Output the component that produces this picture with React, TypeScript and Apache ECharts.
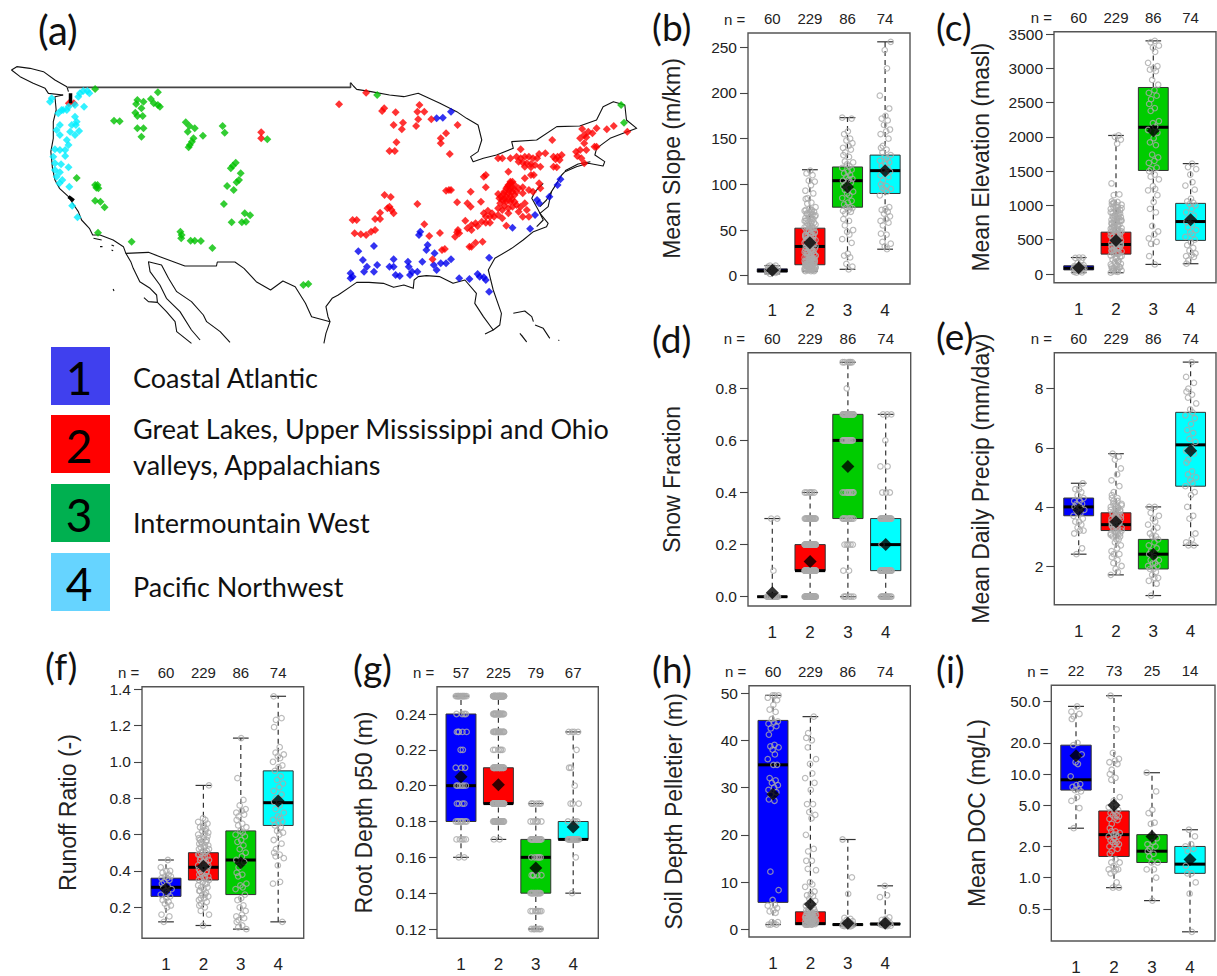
import React, { useEffect, useRef } from "react";
import * as echarts from "echarts";

const GROUPS = [1, 2, 3, 4];
const BOX_COLORS = ["#0000FF", "#FF0000", "#00CC00", "#00FFFF"];
const JITTER = [-0.06, 0.09, -0.12, 0.03, 0.13, -0.03, 0.07, -0.09, 0.01, 0.11, -0.14, 0.05, -0.01, 0.15, -0.07, 0.04, -0.11];

const levels = (pairs: number[][]) => pairs.flatMap(([v, c]) => new Array(c).fill(v));

// [min, q1, median, q3, max]
const slopeBoxes = [[2, 4, 5.5, 7.5, 11], [5, 12, 32, 52, 116], [7, 75, 104, 119, 173], [29, 90, 115, 132, 256]];
const slopeMeans = [6, 36, 97, 115];
const slopePoints = [
  [2, 3, 4, 4, 5, 5, 5, 6, 6, 6, 6, 7, 7, 8, 8, 9, 10, 11, 11],
  [5, 5, 6, 6, 6, 7, 7, 8, 8, 8, 9, 9, 10, 10, 11, 12, 12, 13, 14, 15, 15, 16, 17, 18, 19, 20, 20, 21, 22, 23, 24, 25, 26, 27, 28, 29, 30, 31, 32, 33, 34, 35, 36, 37, 38, 39, 40, 41, 42, 43, 44, 45, 46, 47, 48, 49, 50, 51, 52, 53, 54, 55, 56, 57, 58, 60, 61, 62, 63, 64, 65, 66, 67, 68, 69, 70, 71, 72, 73, 75, 79, 80, 84, 85, 90, 93, 99, 103, 104, 110, 112, 115,
    5, 6, 7, 8, 9, 10, 11, 12, 13, 14, 15, 16, 17, 18, 19, 20, 22, 24, 26, 28, 30, 32, 34, 36, 38, 40, 42, 44, 46, 48, 50, 52, 54, 56, 58, 60, 62, 64, 66, 68, 70, 72, 6, 7, 8, 9, 10, 11, 12, 13, 14, 15, 16, 18, 20, 22, 25, 28, 31, 35, 39, 43],
  [7, 10, 13, 20, 22, 24, 36, 40, 45, 48, 50, 55, 60, 62, 68, 70, 71, 72, 74, 75, 75, 78, 80, 82, 85, 88, 90, 92, 94, 96, 98, 100, 102, 104, 105, 106, 108, 110, 112, 114, 116, 118, 120, 122, 124, 125, 130, 132, 135, 138, 140, 142, 145, 148, 150, 155, 158, 172, 173],
  [29, 32, 35, 37, 45, 46, 55, 58, 60, 62, 65, 68, 70, 72, 73, 75, 88, 92, 94, 95, 96, 98, 100, 104, 108, 110, 112, 114, 116, 118, 120, 122, 124, 126, 128, 130, 132, 135, 138, 140, 142, 150, 155, 158, 160, 165, 170, 172, 175, 183, 197, 227, 247, 256],
];
const slopeTicks = [0, 50, 100, 150, 200, 250];

const elevBoxes = [[20, 60, 85, 120, 240], [20, 290, 430, 610, 2020], [140, 1510, 2140, 2720, 3400], [150, 490, 765, 1030, 1610]];
const elevMeans = [90, 490, 2090, 790];
const elevPoints = [
  [20, 25, 30, 40, 50, 55, 60, 60, 65, 70, 75, 80, 85, 85, 90, 95, 100, 105, 110, 115, 120, 130, 160, 200, 235, 240, 240],
  [20, 30, 40, 50, 60, 70, 80, 90, 100, 110, 130, 150, 170, 190, 210, 230, 250, 270, 290, 310, 330, 350, 370, 390, 410, 430, 450, 470, 490, 510, 530, 550, 570, 590, 610, 630, 650, 670, 690, 710, 730, 750, 770, 790, 810, 830, 850, 870, 890, 910, 930, 950, 970, 990, 1010, 1030, 1050, 1060, 1150, 1160, 1320, 1900, 1960, 2000, 2020,
    40, 70, 100, 140, 180, 220, 260, 300, 320, 340, 360, 380, 400, 420, 440, 460, 480, 500, 520, 540, 560, 580, 600, 620, 640, 660, 680, 700, 720, 740, 760, 780, 800, 820, 840, 860, 880, 900, 920, 940, 960, 980, 1000, 1020, 1040, 300, 340, 380, 420, 460, 500, 540, 580, 620, 660, 700, 740, 780, 820],
  [140, 260, 440, 470, 520, 580, 620, 700, 900, 950, 1050, 1150, 1220, 1240, 1280, 1380, 1420, 1450, 1500, 1530, 1550, 1620, 1650, 1700, 1740, 1880, 1920, 1980, 2060, 2100, 2150, 2200, 2230, 2380, 2420, 2480, 2550, 2600, 2640, 2680, 2760, 2830, 2960, 2980, 3000, 3030, 3080, 3240, 3300, 3330, 3380, 3400],
  [150, 200, 250, 260, 280, 300, 340, 380, 420, 460, 500, 540, 580, 610, 640, 680, 720, 760, 800, 850, 900, 950, 1000, 1020, 1040, 1060, 1100, 1230, 1290, 1340, 1450, 1530, 1560, 1610],
];
const elevTicks = [0, 500, 1000, 1500, 2000, 2500, 3000, 3500];

const snowBoxes = [[0, 0, 0, 0, 0.3], [0, 0.1, 0.1, 0.2, 0.4], [0, 0.3, 0.6, 0.7, 0.9], [0, 0.1, 0.2, 0.3, 0.7]];
const snowMeans = [0.015, 0.135, 0.5, 0.2];
const snowPoints = [
  levels([[0, 20], [0.1, 1], [0.3, 2]]),
  levels([[0, 34], [0.1, 50], [0.2, 50], [0.3, 20], [0.4, 6]]),
  levels([[0, 6], [0.1, 2], [0.2, 5], [0.3, 12], [0.4, 10], [0.6, 16], [0.7, 26], [0.8, 1], [0.9, 6]]),
  levels([[0, 14], [0.1, 24], [0.2, 1], [0.3, 24], [0.4, 3], [0.5, 2], [0.6, 1], [0.7, 3]]),
];
const snowTicks = [0, 0.2, 0.4, 0.6, 0.8];

const precipBoxes = [[2.4, 3.7, 4, 4.3, 4.8], [1.7, 3.2, 3.4, 3.8, 5.8], [1, 1.9, 2.4, 2.9, 4], [2.7, 4.7, 6.1, 7.2, 8.9]];
const precipMeans = [3.9, 3.5, 2.4, 5.9];
const precipPoints = [
  [2.4, 2.6, 3.1, 3.2, 3.2, 3.3, 3.4, 3.5, 3.5, 3.6, 3.7, 3.8, 3.8, 3.9, 3.9, 4, 4, 4.1, 4.1, 4.2, 4.2, 4.3, 4.4, 4.5, 4.6, 4.6, 4.8],
  [1.7, 1.8, 1.9, 2, 2.1, 2.2, 2.3, 2.4, 2.4, 2.5, 2.6, 2.7, 2.8, 2.9, 3, 3, 3.1, 3.1, 3.2, 3.2, 3.3, 3.3, 3.4, 3.4, 3.5, 3.5, 3.6, 3.6, 3.7, 3.7, 3.8, 3.8, 3.9, 3.9, 4, 4, 4.1, 4.1, 4.2, 4.3, 4.4, 4.5, 4.7, 4.9, 5.1, 5.3, 5.6, 5.7, 5.8,
    2.9, 3, 3.05, 3.1, 3.15, 3.2, 3.25, 3.3, 3.35, 3.4, 3.45, 3.5, 3.55, 3.6, 3.65, 3.7, 3.75, 3.8, 3.85, 3.9, 3.95, 4, 4.05, 4.1, 4.2, 4.3],
  [1, 1.4, 1.5, 1.6, 1.6, 1.7, 1.8, 1.9, 1.9, 2, 2, 2.1, 2.1, 2.2, 2.2, 2.3, 2.4, 2.5, 2.6, 2.7, 2.8, 2.9, 3, 3, 3.1, 3.2, 3.3, 3.4, 3.5, 3.6, 3.7, 3.8, 4, 4],
  [2.7, 2.7, 2.8, 2.9, 3.1, 3.6, 3.7, 4, 4.4, 4.5, 4.7, 4.8, 4.9, 5, 5.1, 5.2, 5.5, 5.6, 5.8, 5.9, 6, 6.2, 6.3, 6.5, 6.6, 6.8, 7, 7.1, 7.2, 7.3, 7.5, 7.7, 7.8, 7.9, 8, 8.2, 8.4, 8.9],
];
const precipTicks = [2, 4, 6, 8];

const runoffBoxes = [[0.12, 0.26, 0.31, 0.36, 0.46], [0.1, 0.35, 0.42, 0.5, 0.87], [0.08, 0.27, 0.46, 0.62, 1.13], [0.12, 0.65, 0.775, 0.95, 1.36]];
const runoffMeans = [0.3, 0.425, 0.445, 0.785];
const runoffPoints = [
  [0.12, 0.15, 0.16, 0.2, 0.21, 0.22, 0.23, 0.24, 0.25, 0.26, 0.27, 0.28, 0.29, 0.3, 0.31, 0.32, 0.33, 0.34, 0.35, 0.36, 0.36, 0.37, 0.37, 0.38, 0.39, 0.4, 0.4, 0.42, 0.46],
  [0.1, 0.16, 0.18, 0.2, 0.21, 0.22, 0.23, 0.24, 0.25, 0.26, 0.27, 0.28, 0.29, 0.3, 0.31, 0.32, 0.33, 0.34, 0.35, 0.36, 0.37, 0.38, 0.39, 0.4, 0.41, 0.42, 0.43, 0.44, 0.45, 0.46, 0.47, 0.48, 0.49, 0.5, 0.51, 0.52, 0.53, 0.54, 0.55, 0.56, 0.57, 0.58, 0.6, 0.61, 0.62, 0.63, 0.64, 0.65, 0.66, 0.67, 0.68, 0.69, 0.87,
    0.25, 0.27, 0.29, 0.31, 0.33, 0.35, 0.36, 0.37, 0.38, 0.39, 0.4, 0.41, 0.42, 0.43, 0.44, 0.45, 0.46, 0.47, 0.48, 0.49, 0.5, 0.51, 0.52, 0.53, 0.54, 0.55, 0.56, 0.57, 0.58, 0.59, 0.6, 0.62, 0.64],
  [0.08, 0.09, 0.1, 0.12, 0.13, 0.14, 0.15, 0.16, 0.18, 0.2, 0.21, 0.24, 0.25, 0.27, 0.3, 0.31, 0.32, 0.33, 0.37, 0.38, 0.39, 0.42, 0.45, 0.46, 0.48, 0.5, 0.52, 0.54, 0.56, 0.57, 0.59, 0.6, 0.61, 0.62, 0.64, 0.65, 0.66, 0.68, 0.7, 0.71, 0.72, 0.73, 0.74, 0.76, 0.79, 0.91, 1.13],
  [0.12, 0.33, 0.34, 0.43, 0.47, 0.48, 0.49, 0.5, 0.52, 0.55, 0.57, 0.6, 0.61, 0.62, 0.64, 0.65, 0.66, 0.67, 0.68, 0.69, 0.7, 0.72, 0.74, 0.76, 0.78, 0.8, 0.82, 0.84, 0.86, 0.88, 0.9, 0.92, 0.95, 0.97, 0.98, 1, 1.02, 1.03, 1.04, 1.05, 1.08, 1.19, 1.23, 1.24, 1.36],
];
const runoffTicks = [0.2, 0.4, 0.6, 0.8, 1.0, 1.2, 1.4];

const rootBoxes = [[0.16, 0.18, 0.2, 0.24, 0.25], [0.17, 0.19, 0.19, 0.21, 0.25], [0.12, 0.14, 0.16, 0.17, 0.19], [0.14, 0.17, 0.17, 0.18, 0.23]];
const rootMeans = [0.205, 0.2005, 0.154, 0.177];
const rootPoints = [
  levels([[0.16, 2], [0.17, 5], [0.18, 8], [0.19, 4], [0.2, 6], [0.21, 3], [0.22, 2], [0.23, 5], [0.24, 4], [0.25, 14]]),
  levels([[0.17, 2], [0.18, 22], [0.19, 40], [0.21, 25], [0.22, 6], [0.23, 20], [0.24, 20], [0.25, 50]]),
  levels([[0.12, 6], [0.13, 8], [0.14, 16], [0.15, 5], [0.16, 6], [0.17, 20], [0.18, 6], [0.19, 6]]),
  levels([[0.14, 1], [0.16, 1], [0.17, 18], [0.18, 4], [0.19, 3], [0.2, 1], [0.21, 2], [0.22, 1], [0.23, 4]]),
];
const rootTicks = [0.12, 0.14, 0.16, 0.18, 0.2, 0.22, 0.24];

const soilBoxes = [[1, 5.7, 34.8, 44.2, 49.5], [1, 1, 1.2, 3.7, 45], [0.7, 0.8, 1, 1.2, 19], [0.8, 1, 1.1, 1.3, 9.2]];
const soilMeans = [28.6, 5.3, 1.3, 1.3];
const soilPoints = [
  [1, 1, 1, 1.2, 1.5, 1.5, 3.5, 3.8, 4, 4.5, 5, 5.2, 6.2, 8.3, 12.2, 27.2, 27.5, 28.5, 29, 29.5, 30, 30.5, 31, 31.5, 32, 34.8, 34.8, 36, 37, 38, 38.5, 38.7, 39, 41.2, 42.5, 43, 43.5, 43.8, 44, 44.5, 46, 46.5, 47.5, 48.5, 49, 49.5, 49.5, 49.5],
  [1, 1, 1, 1, 1.2, 1.2, 1.5, 1.5, 1.5, 1.8, 2, 2, 2.2, 2.5, 2.5, 3, 3, 3.5, 3.5, 4, 4, 4.5, 5, 5.5, 6, 6.5, 7, 7.2, 7.5, 8, 9, 9.5, 10, 12.5, 12.8, 14.5, 14.5, 16.5, 17, 20, 23.5, 24.2, 24.8, 26.5, 26.5, 29.5, 31, 32, 33, 35, 36, 38.5, 40, 40.5, 41.5, 45,
    1, 1, 1.1, 1.1, 1.2, 1.3, 1.4, 1.5, 1.6, 1.7, 1.8, 1.9, 2, 2.1, 2.2, 2.3, 2.4, 2.6, 2.8, 3, 3.2, 3.4, 3.6, 3.8, 4, 1, 1.2, 1.4, 1.6, 1.8, 2, 2.2, 2.4, 2.7, 3, 3.3, 3.6, 4.1],
  [0.6, 0.7, 0.7, 0.8, 0.8, 0.9, 0.9, 1, 1, 1, 1.1, 1.1, 1.2, 1.3, 1.5, 1.7, 2, 2.2, 2.4, 7.5, 11, 19],
  [0.7, 0.8, 0.8, 0.9, 0.9, 1, 1, 1, 1.1, 1.2, 1.3, 1.5, 1.8, 2, 2.2, 2.5, 6.8, 7.2, 9.2],
];
const soilTicks = [0, 10, 20, 30, 40, 50];

const docBoxes = [[3, 7, 8.8, 19, 45], [0.8, 1.6, 2.6, 4.4, 57], [0.6, 1.4, 1.8, 2.6, 10.3], [0.3, 1.1, 1.35, 2, 2.9]];
const docMeans = [15, 5, 2.5, 1.5];
const docPoints = [
  [3, 4.7, 5.5, 6, 6.8, 7, 7.2, 7.5, 7.8, 8, 9.5, 12.5, 13, 15.5, 19, 20, 34, 36, 38, 40, 45],
  [0.8, 0.8, 0.9, 1.1, 1.15, 1.2, 1.2, 1.2, 1.3, 1.4, 1.4, 1.5, 1.7, 1.8, 1.9, 2, 2.1, 2.1, 2.2, 2.2, 2.3, 2.4, 2.5, 2.5, 2.6, 2.6, 2.7, 2.8, 2.8, 3, 3.3, 3.6, 3.7, 3.8, 3.9, 4, 4, 4.2, 4.4, 4.5, 4.8, 5, 5.5, 6, 8.8, 9.2, 10, 11, 12.5, 13, 13.5, 14, 16, 27, 57],
  [0.6, 1, 1.2, 1.2, 1.4, 1.4, 1.6, 1.7, 1.8, 1.9, 2, 2.1, 2.2, 2.4, 3.3, 3.4, 4.2, 4.5, 6.8, 10.3],
  [0.3, 0.7, 0.9, 1.1, 1.1, 1.3, 1.8, 1.9, 2, 2.1, 2.5, 2.9],
];
const docTicks = [0.5, 1, 2, 5, 10, 20, 50];

const NS_DEFAULT = ["60", "229", "86", "74"];
const NS_ROOT = ["57", "225", "79", "67"];
const NS_DOC = ["22", "73", "25", "14"];

// Map: coordinates in a 1561x900 map frame
const borderLine = [[165, 112], [855, 112], [855, 98]];
const coastLines = [
  [[855, 98], [862, 108], [870, 118], [905, 125], [950, 135], [985, 140], [1020, 130], [1073, 160], [1114, 185], [1138, 205], [1166, 225], [1175, 270], [1166, 305], [1148, 320], [1154, 335], [1179, 325], [1211, 315], [1252, 295], [1248, 275], [1309, 270], [1358, 230], [1414, 228], [1455, 210], [1471, 170], [1496, 155], [1524, 165], [1528, 210], [1553, 235], [1520, 250], [1488, 265], [1455, 295], [1451, 315], [1475, 335], [1471, 348], [1435, 340], [1406, 350], [1378, 365], [1370, 375], [1358, 400], [1345, 425], [1337, 470], [1317, 490], [1337, 520], [1333, 530], [1301, 545], [1276, 570], [1248, 595], [1207, 625], [1191, 660], [1203, 720], [1223, 790], [1219, 825], [1203, 840], [1179, 800], [1158, 760], [1162, 730], [1134, 690], [1105, 700], [1073, 680], [1040, 677], [1020, 680], [1010, 690], [1008, 715], [985, 705], [960, 712], [935, 700], [900, 697], [870, 697], [855, 710], [825, 735], [810, 745], [795, 770], [800, 800], [805, 815], [795, 850], [790, 880]],
  [[805, 815], [760, 800], [745, 760], [720, 710], [690, 693], [660, 720], [625, 695], [595, 655], [573, 636], [530, 636], [528, 648], [451, 648], [390, 620], [362, 607], [307, 610], [301, 590], [276, 570], [244, 555], [226, 555], [218, 535], [199, 510], [191, 485], [180, 465], [167, 440], [145, 415], [134, 390], [128, 355], [124, 305], [130, 265], [130, 215], [137, 180], [134, 140], [154, 135]],
  [[307, 610], [319, 635], [325, 655], [341, 695], [366, 715], [382, 735], [384, 757], [362, 755], [351, 743]],
  [[384, 757], [406, 785], [427, 815], [431, 845], [467, 880]],
  [[362, 635], [366, 665], [390, 705], [406, 745], [439, 785], [467, 840], [488, 870]],
  [[362, 635], [394, 645], [411, 685], [431, 725], [467, 755], [496, 795], [504, 815], [537, 845], [561, 877]],
  [[28, 60], [41, 50], [73, 55], [106, 65], [134, 90], [163, 110], [167, 125]],
  [[28, 60], [49, 80], [81, 100], [110, 115], [118, 130], [154, 135]],
  [[228, 565], [248, 570]], [[244, 590], [250, 590]], [[272, 585], [278, 588]], [[272, 600], [276, 602]], [[276, 717], [278, 723]],
  [[1252, 790], [1280, 783], [1297, 800], [1301, 815]], [[1305, 825], [1325, 835], [1341, 865]], [[1268, 850], [1284, 875], [1272, 855]], [[1362, 870], [1364, 872]],
  [[1325, 400], [1305, 425], [1297, 445], [1313, 480], [1325, 510], [1309, 530]],
  [[1345, 425], [1333, 450], [1317, 470]],
  [[1378, 362], [1410, 342], [1440, 335]],
  [[1203, 840], [1183, 852]],
];
const thickLines = [[[172, 130], [172, 160]], [[167, 440], [180, 452]]];
const stations1 = [[1100, 185], [1065, 205], [1080, 203], [1025, 545], [1022, 555], [1043, 585], [1040, 600], [912, 588], [874, 604], [885, 630], [895, 650], [888, 665], [920, 645], [912, 665], [950, 650], [960, 628], [960, 650], [995, 635], [997, 650], [1005, 665], [1000, 675], [1018, 665], [965, 675], [975, 678], [855, 670], [860, 680], [855, 685], [1030, 635], [1060, 610], [1058, 645], [1065, 660], [1075, 640], [1088, 640], [1100, 628], [1120, 685], [1145, 687], [1165, 672], [1170, 680], [1180, 682], [1185, 690], [1193, 623], [1193, 725], [1250, 533], [1293, 536], [1305, 495], [1310, 450], [1315, 460], [1340, 440], [1360, 405], [1367, 388]];
const stations2 = [[168, 160], [180, 160], [893, 128], [827, 163], [637, 247], [637, 265], [1023, 165], [965, 187], [937, 175], [932, 183], [1018, 185], [1035, 185], [1020, 208], [1052, 208], [983, 218], [960, 225], [1015, 228], [980, 238], [1116, 225], [1088, 250], [1075, 265], [1075, 280], [967, 277], [950, 303], [963, 303], [1097, 312], [938, 435], [953, 441], [1018, 462], [950, 470], [955, 480], [945, 475], [960, 490], [927, 488], [915, 507], [927, 507], [860, 510], [870, 510], [865, 550], [880, 553], [893, 555], [905, 545], [915, 540], [1035, 523], [1047, 558], [1073, 549], [1078, 600], [1085, 597], [1055, 628], [1117, 540], [1110, 560], [1095, 420], [1088, 422], [1100, 420], [1148, 425], [1115, 457], [1140, 460], [1148, 470], [1173, 455], [1180, 380], [1185, 375], [1185, 412],
  [1215, 432], [1222, 440], [1230, 425], [1235, 415], [1240, 405], [1245, 395], [1250, 395], [1255, 405], [1245, 415], [1250, 425], [1240, 430], [1235, 440], [1245, 440], [1255, 435], [1260, 425], [1265, 415], [1225, 450], [1235, 455], [1245, 455], [1220, 460], [1230, 468], [1240, 475], [1250, 470], [1260, 465], [1255, 455], [1270, 470], [1280, 460], [1285, 480], [1265, 485], [1275, 500], [1290, 500], [1240, 490], [1225, 480], [1215, 475], [1280, 385], [1295, 375], [1302, 375], [1240, 365], [1275, 412], [1315, 400], [1318, 415], [1290, 420], [1300, 425], [1275, 430], [1245, 400], [1238, 410], [1228, 432], [1242, 422], [1252, 415], [1232, 448], [1218, 445], [1248, 448],
  [1180, 490], [1190, 482], [1200, 490], [1185, 500], [1195, 500], [1205, 500], [1215, 495], [1225, 505], [1175, 515], [1185, 518], [1195, 518], [1160, 520], [1150, 525], [1165, 528], [1150, 540], [1140, 535], [1135, 512], [1145, 590], [1150, 590], [1160, 578], [1177, 575], [1235, 527], [1115, 547], [1120, 550],
  [1215, 325], [1225, 325], [1245, 325], [1270, 298], [1260, 320], [1270, 325], [1280, 320], [1290, 320], [1300, 325], [1310, 325], [1265, 335], [1275, 338], [1285, 340], [1295, 342], [1305, 345], [1318, 350], [1280, 350], [1295, 352], [1315, 312], [1330, 310], [1350, 320], [1360, 320], [1370, 315], [1355, 328], [1365, 330], [1350, 350], [1358, 352], [1347, 270],
  [1405, 305], [1415, 300], [1430, 300], [1408, 318], [1418, 325], [1425, 340], [1420, 237], [1435, 245], [1425, 255], [1415, 265], [1430, 262], [1445, 250], [1455, 235], [1480, 238], [1497, 228], [1450, 290], [1425, 280], [1455, 290], [1530, 245]];
const stations3 = [[232, 117], [385, 127], [335, 150], [350, 155], [332, 162], [368, 147], [375, 160], [385, 165], [390, 170], [345, 175], [330, 188], [335, 198], [348, 198], [278, 212], [292, 214], [335, 235], [350, 235], [345, 260], [453, 217], [462, 228], [475, 235], [458, 245], [543, 228], [548, 248], [495, 257], [472, 265], [468, 275], [463, 285], [460, 292], [652, 268], [575, 338], [568, 347], [563, 355], [587, 370], [583, 390], [577, 397], [570, 420], [554, 408], [187, 384], [232, 405], [238, 405], [235, 413], [240, 415], [232, 452], [245, 455], [255, 472], [546, 462], [597, 490], [610, 496], [565, 517], [590, 517], [600, 515], [440, 545], [443, 555], [442, 565], [465, 572], [475, 572], [490, 573], [518, 594], [321, 575], [239, 548], [740, 705], [752, 702], [920, 135], [1515, 165], [1522, 218]];
const stations4 = [[126, 145], [122, 155], [150, 180], [142, 190], [163, 180], [183, 165], [191, 140], [195, 130], [203, 123], [213, 123], [218, 130], [205, 170], [183, 200], [187, 215], [175, 225], [185, 225], [171, 245], [183, 255], [193, 243], [138, 240], [146, 255], [163, 270], [167, 285], [134, 298], [146, 300], [159, 300], [159, 318], [130, 320], [134, 340], [149, 343], [167, 352], [134, 360], [146, 367], [138, 380], [152, 390], [145, 400], [169, 410], [176, 467], [189, 502], [154, 180], [146, 225], [167, 170]];
const MAP_COLORS = ["#0000EE", "#FF0000", "#00C000", "#00EEFF"];

const legendNumbers = ["1", "2", "3", "4"];
const legendColors = ["#4040EE", "#FF0000", "#00B050", "#66D4FF"];
const legendLabels = [
  ["Coastal Atlantic", 377],
  ["Great Lakes, Upper Mississippi and Ohio", 428],
  ["valleys, Appalachians", 464],
  ["Intermountain West", 522],
  ["Pacific Northwest", 586],
];

// Layout: l, r, t, b: frame; tick values pinned to pixel rows; cx: centre of group 1; dx: group spacing
const panels = [
  { key: "(b)", title: "Mean Slope (m/km)", boxes: slopeBoxes, means: slopeMeans, points: slopePoints, ticks: slopeTicks, ns: NS_DEFAULT, digits: 0, l: 748, r: 910, t: 33, b: 284, v0: 0, y0: 275.7, v1: 250, y1: 47.3, cx: 772.3, dx: 37.6, gap: 65, lx: 652, ly: 26 },
  { key: "(c)", title: "Mean Elevation (masl)", boxes: elevBoxes, means: elevMeans, points: elevPoints, ticks: elevTicks, ns: NS_DEFAULT, digits: 0, l: 1054, r: 1216, t: 31.7, b: 282.7, v0: 0, y0: 274, v1: 3500, y1: 34, cx: 1078.7, dx: 37.3, gap: 62, lx: 936, ly: 26 },
  { key: "(d)", title: "Snow Fraction", boxes: snowBoxes, means: snowMeans, points: snowPoints, ticks: snowTicks, ns: NS_DEFAULT, digits: 1, l: 748, r: 910.7, t: 352.7, b: 606, v0: 0, y0: 596.7, v1: 0.8, y1: 388.3, cx: 772.3, dx: 37.8, gap: 65, lx: 652, ly: 338 },
  { key: "(e)", title: "Mean Daily Precip (mm/day)", boxes: precipBoxes, means: precipMeans, points: precipPoints, ticks: precipTicks, ns: NS_DEFAULT, digits: 0, l: 1054.3, r: 1216, t: 352.7, b: 604.7, v0: 2, y0: 566, v1: 8, y1: 388.7, cx: 1078.7, dx: 37.3, gap: 62, lx: 936, ly: 335 },
  { key: "(f)", title: "Runoff Ratio (-)", boxes: runoffBoxes, means: runoffMeans, points: runoffPoints, ticks: runoffTicks, ns: NS_DEFAULT, digits: 1, l: 142, r: 303.7, t: 686.7, b: 938.3, v0: 0.2, y0: 907.3, v1: 1.4, y1: 689, cx: 166, dx: 37.4, gap: 63, lx: 45, ly: 665 },
  { key: "(g)", title: "Root Depth p50 (m)", boxes: rootBoxes, means: rootMeans, points: rootPoints, ticks: rootTicks, ns: NS_ROOT, digits: 2, l: 437, r: 598.3, t: 686.7, b: 938.3, v0: 0.12, y0: 929, v1: 0.24, y1: 714, cx: 461, dx: 37.4, gap: 62, lx: 353, ly: 667 },
  { key: "(h)", title: "Soil Depth Pelletier (m)", boxes: soilBoxes, means: soilMeans, points: soilPoints, ticks: soilTicks, ns: NS_DEFAULT, digits: 0, l: 749, r: 910.3, t: 685.7, b: 937, v0: 0, y0: 929.3, v1: 50, y1: 693, cx: 773, dx: 37.4, gap: 64, lx: 652, ly: 668 },
  { key: "(i)", title: "Mean DOC (mg/L)", boxes: docBoxes, means: docMeans, points: docPoints, ticks: docTicks, ns: NS_DOC, digits: 1, log: true, l: 1051.3, r: 1215, t: 685.3, b: 942, v0: 0.5, y0: 909.7, v1: 50, y1: 701.7, cx: 1076, dx: 38, gap: 63, lx: 936, ly: 668 },
];

const SANS = '"Liberation Sans", Arial, sans-serif';
const INK = "#222";

function buildOption() {
  const grid: any[] = [];
  const xAxis: any[] = [];
  const yAxis: any[] = [];
  const series: any[] = [];
  const graphic: any[] = [];

  // (a) map
  grid.push({ left: 0, top: 50, width: 640, height: 300, show: false });
  xAxis.push({ type: "value", gridIndex: 0, min: 0, max: 1561, show: false });
  yAxis.push({ type: "value", gridIndex: 0, min: 0, max: 900, inverse: true, show: false });
  const mapLine = (data: number[][], color: string, width: number) =>
    series.push({ type: "line", xAxisIndex: 0, yAxisIndex: 0, data, showSymbol: false, silent: true, lineStyle: { color, width, join: "round" }, z: 2 });
  mapLine(borderLine, "#444", 1.6);
  coastLines.forEach((line) => mapLine(line, "#111", 1.1));
  [stations1, stations2, stations3, stations4].forEach((pts, i) =>
    series.push({ type: "scatter", xAxisIndex: 0, yAxisIndex: 0, data: pts, symbol: "diamond", symbolSize: 8, itemStyle: { color: MAP_COLORS[i] }, silent: true, z: 3 })
  );
  thickLines.forEach((data) =>
    series.push({ type: "line", xAxisIndex: 0, yAxisIndex: 0, data, showSymbol: false, silent: true, lineStyle: { color: "#000", width: 3.5 }, z: 4 })
  );

  panels.forEach((p: any) => {
    const tf = (v: number) => (p.log ? Math.log10(v) : v);
    const yPerUnit = (tf(p.v1) - tf(p.v0)) / (p.y0 - p.y1);
    const yMin = tf(p.v0) - (p.b - p.y0) * yPerUnit;
    const yMax = tf(p.v1) + (p.y1 - p.t) * yPerUnit;
    const xMin = 1 - (p.cx - p.l) / p.dx;
    const xMax = xMin + (p.r - p.l) / p.dx;
    const gi = grid.length;
    grid.push({ left: p.l, top: p.t, width: p.r - p.l, height: p.b - p.t, show: true, borderColor: "#555", borderWidth: 1.4, backgroundColor: "transparent" });
    const bottomAxis = xAxis.length;
    xAxis.push({
      type: "value", gridIndex: gi, position: "bottom", min: xMin, max: xMax, splitLine: { show: false }, axisLine: { show: false }, axisTick: { show: false },
      axisLabel: { customValues: GROUPS, margin: 18, fontSize: 17, fontFamily: SANS, color: INK, formatter: (v: number) => String(v) },
    });
    xAxis.push({
      type: "value", gridIndex: gi, position: "top", min: xMin, max: xMax, splitLine: { show: false }, axisLine: { show: false }, axisTick: { show: false },
      axisLabel: { customValues: GROUPS, margin: 7, fontSize: 15, fontFamily: SANS, color: INK, formatter: (v: number) => p.ns[Math.round(v) - 1] },
    });
    const yi = yAxis.length;
    const tickVals = p.ticks.map(tf);
    yAxis.push({
      type: "value", gridIndex: gi, min: yMin, max: yMax, splitLine: { show: false }, axisLine: { show: false },
      axisTick: { show: true, length: 8, customValues: tickVals, lineStyle: { color: "#444", width: 1.1 } },
      axisLabel: {
        customValues: tickVals, margin: 11, fontSize: 15.5, fontFamily: SANS, color: INK,
        formatter: (v: number) => (p.log ? Math.pow(10, v) : v).toFixed(p.digits),
      },
      name: p.title, nameLocation: "middle", nameGap: p.gap, nameRotate: 90, nameTextStyle: { fontSize: 23, fontFamily: SANS, color: INK },
    });
    // boxes
    series.push({
      type: "custom", xAxisIndex: bottomAxis, yAxisIndex: yi, silent: true, z: 3, clip: false,
      data: p.boxes.map((b: number[], i: number) => [GROUPS[i], ...b.map(tf)]),
      encode: { x: 0, y: [1, 2, 3, 4, 5] },
      renderItem: (params: any, api: any) => {
        const x = api.value(0);
        const at = (dx: number, v: number) => api.coord([x + dx, v]);
        const seg = (a: number[], b: number[], style: any) => ({ type: "line", shape: { x1: a[0], y1: a[1], x2: b[0], y2: b[1] }, style });
        const [lo, q1, med, q3, hi] = [1, 2, 3, 4, 5].map((k) => api.value(k));
        const tl = at(-0.4, q3);
        const br = at(0.4, q1);
        const dash = { stroke: "#333", lineWidth: 1.2, lineDash: [5, 4] };
        const cap = { stroke: "#333", lineWidth: 1.2 };
        return {
          type: "group",
          children: [
            seg(at(0, lo), at(0, q1), dash),
            seg(at(0, q3), at(0, hi), dash),
            seg(at(-0.21, lo), at(0.21, lo), cap),
            seg(at(-0.21, hi), at(0.21, hi), cap),
            { type: "rect", shape: { x: tl[0], y: tl[1], width: br[0] - tl[0], height: br[1] - tl[1] }, style: { fill: BOX_COLORS[params.dataIndex], stroke: "#333", lineWidth: 1 } },
            seg(at(-0.4, med), at(0.4, med), { stroke: "#000", lineWidth: 3 }),
          ],
        };
      },
    });
    // jittered points
    let n = 0;
    const pts: number[][] = [];
    p.points.forEach((vals: number[], g: number) => vals.forEach((v) => pts.push([GROUPS[g] + JITTER[n++ % JITTER.length], tf(v)])));
    series.push({
      type: "scatter", xAxisIndex: bottomAxis, yAxisIndex: yi, data: pts, symbol: "circle", symbolSize: 5.5, silent: true, z: 4,
      itemStyle: { color: "rgba(255,255,255,0)", borderColor: "#aaa", borderWidth: 1.2 },
    });
    // group means
    series.push({
      type: "scatter", xAxisIndex: bottomAxis, yAxisIndex: yi, data: p.means.map((m: number, i: number) => [GROUPS[i], tf(m)]),
      symbol: "diamond", symbolSize: 13, silent: true, z: 5, itemStyle: { color: "#000" },
    });
    graphic.push({ type: "text", x: p.cx - p.dx, y: p.t - 14, style: { text: "n =", font: `15px ${SANS}`, fill: INK, textAlign: "center", textVerticalAlign: "middle" } });
    graphic.push({ type: "text", x: p.lx, y: p.ly, style: { text: p.key, font: "37px Lato", fill: "#111", textAlign: "left", textVerticalAlign: "middle" } });
  });

  graphic.push({ type: "text", x: 38, y: 30, style: { text: "(a)", font: "40px Lato", fill: "#111", textAlign: "left", textVerticalAlign: "middle" } });
  legendColors.forEach((c, i) => {
    const top = [347, 415, 484, 553][i];
    graphic.push({ type: "rect", shape: { x: 51, y: top, width: 59, height: 58 }, style: { fill: c } });
    graphic.push({ type: "text", x: 79, y: top + 30, style: { text: legendNumbers[i], font: "46px Lato", fill: "#000", textAlign: "center", textVerticalAlign: "middle" } });
  });
  legendLabels.forEach(([text, y]) =>
    graphic.push({ type: "text", x: 133, y, style: { text, font: "27px Lato", fill: "#111", textAlign: "left", textVerticalAlign: "middle" } })
  );

  return { animation: false, backgroundColor: "#fff", grid, xAxis, yAxis, series, graphic };
}

export default function App() {
  const ref = useRef<HTMLDivElement>(null);
  useEffect(() => {
    document.body.style.margin = "0";
    const chart = echarts.init(ref.current!, undefined, { renderer: "svg" });
    chart.setOption(buildOption() as any);
    return () => chart.dispose();
  }, []);
  return <div ref={ref} style={{ width: 1217, height: 976 }} />;
}
